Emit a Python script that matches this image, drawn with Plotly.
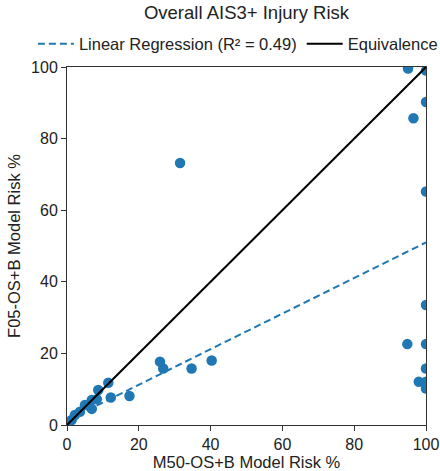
import plotly.graph_objects as go

# M50-OS+B model risk (%) and F05-OS+B model risk (%)
m50_risk = [0.4, 1.3, 2.2, 3.6, 5.0, 6.9, 6.9, 8.3, 8.7, 11.5, 12.2, 17.4,
            25.9, 26.8, 34.7, 40.3, 31.5,
            95.0, 100.0, 100.0, 96.5, 100.0, 100.0, 94.8, 100.0, 100.0,
            98.0, 100.0, 100.0]
f05_risk = [0.5, 1.4, 2.8, 3.7, 5.6, 7.0, 4.5, 7.2, 9.8, 11.8, 7.7, 8.1,
            17.7, 15.8, 15.8, 18.0, 73.2,
            99.6, 99.0, 90.2, 85.7, 65.2, 33.5, 22.6, 22.6, 15.8,
            12.1, 12.1, 10.2]

reg_x = [0, 100]
reg_y = [1.3, 51.0]
eq_x = [0, 100]
eq_y = [0, 100]

ticks = [0, 20, 40, 60, 80, 100]
blue = "#1f77b4"

fig = go.Figure()
fig.add_trace(go.Scatter(x=m50_risk, y=f05_risk, mode="markers",
                         marker=dict(color=blue, size=10.5), showlegend=False,
                         cliponaxis=True))
fig.add_trace(go.Scatter(x=reg_x, y=reg_y, mode="lines",
                         line=dict(color=blue, width=2, dash="7px,4px"),
                         name="Linear Regression (R² = 0.49)"))
fig.add_trace(go.Scatter(x=eq_x, y=eq_y, mode="lines",
                         line=dict(color="black", width=2),
                         name="Equivalence"))

axis_common = dict(range=[0, 100], tickvals=ticks, showline=True, mirror=True,
                   linecolor="#333", linewidth=1, ticks="outside", ticklen=5,
                   tickcolor="#333", showgrid=False, zeroline=False,
                   automargin=False,
                   tickfont=dict(size=16, color="#222"))

fig.update_layout(
    width=440, height=471,
    margin=dict(l=67, r=14, t=67, b=46, autoexpand=False),
    paper_bgcolor="white", plot_bgcolor="white",
    font=dict(family="Liberation Sans, Arial, sans-serif", color="#222"),
    title=dict(text="Overall AIS3+ Injury Risk", x=0.5, xanchor="center",
               xref="paper", y=1 - 13 / 471, yanchor="middle",
               font=dict(size=18.5, color="#222")),
    legend=dict(orientation="h", x=-0.095, xanchor="left", itemwidth=36,
                y=1.064, yanchor="middle", font=dict(size=16.5, color="#222"),
                bgcolor="rgba(0,0,0,0)"),
    xaxis=dict(title=dict(text="M50-OS+B Model Risk %", font=dict(size=16.5),
                          standoff=2), **axis_common),
    yaxis=dict(title=dict(text="F05-OS+B Model Risk %", font=dict(size=16.5),
                          standoff=6), **axis_common),
)

fig.write_html("out.html", config={"displayModeBar": False},
               post_script="document.body.style.margin='0';")
